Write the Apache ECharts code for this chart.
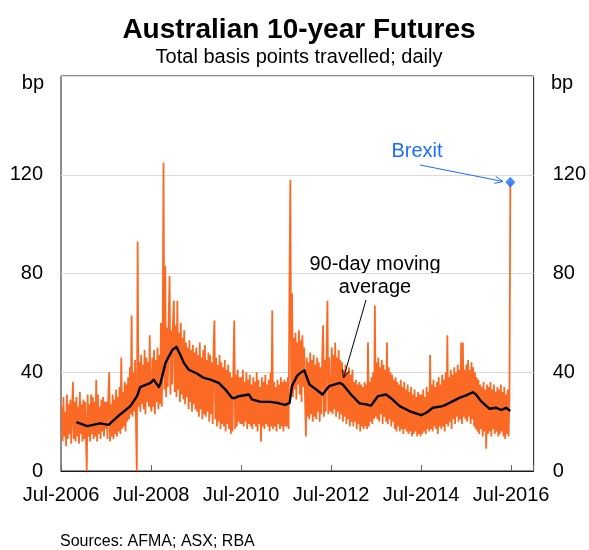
<!DOCTYPE html>
<html><head><meta charset="utf-8">
<script src="https://cdn.jsdelivr.net/npm/echarts@6/dist/echarts.min.js"></script>
<style>html,body{margin:0;padding:0;background:#fff}#c{width:589px;height:550px}</style>
</head><body><div id="c"></div>
<script>
// ---------- DATA ----------
const xTickLabels = ['Jul-2006','Jul-2008','Jul-2010','Jul-2012','Jul-2014','Jul-2016'];
const axisStart = '2006-07-01';
const sampleStart = '2006-07-07';   // samples every 7 days (bp travelled)
const sampleStepDays = 7;
const fy2006 = [26,12,30,14,24,10,31,13,27,15,29,11,25, 36,13,28,12,30,14,26,11,32,15,27,12,29, 13,28,16,0,31,14,27,12,31,15,30,13,28, 14,37,12,31,15,26,13,29,16,30,14,28,17];
const fy2007 = [28,13,30,40,12,27,14,31,13,29,15,33,14, 30,16,34,15,46,17,32,18,36,16,35,20,38, 21,42,23,63,22,40,24,45,21,0,93,26,44, 24,47,27,43,25,49,23,46,28,44,26,55,27];
const fy2008 = [24,46,26,49,23,45,28,50,25,47,27,60,26, 52,125,33,83,30,58,34,62,79,31,57,35,61, 69,32,59,30,69,33,56,28,60,31,54,29,57, 27,52,30,50,25,53,28,49,24,51,27,48,25];
const fy2009 = [50,24,47,22,52,25,46,21,49,23,51,22,45, 24,48,20,47,23,44,19,50,61,21,46,18,43, 20,47,17,44,19,42,18,45,16,41,19,43,17, 40,15,38,16,42,61,17,39,18,41,20,38,19];
const fy2010 = [38,19,41,18,36,20,40,17,37,19,39,18,35, 17,38,19,36,18,40,16,37,19,34,12,38,18, 36,17,39,19,35,18,37,16,40,18,65,17,36, 18,34,16,37,19,35,17,38,18,36,16,37,18];
const fy2011 = [36,18,38,17,76,118,32,72,30,54,33,56,29, 52,35,57,31,53,28,55,34,50,30,14,46,22, 44,21,48,23,45,20,47,22,43,21,46,24,44, 20,42,23,47,59,22,45,24,48,69,23,46,25];
const fy2012 = [24,50,23,47,25,52,22,46,24,49,21,45,23, 44,20,41,22,43,19,40,21,42,18,39,20,41, 18,36,20,37,17,35,19,36,16,35,18,34,17, 36,18,35,17,52,18,36,20,38,19,40,21,67];
const fy2013 = [22,44,21,46,20,42,23,45,19,43,22,41,20, 52,19,42,21,40,18,39,20,37,17,38,16,36, 18,35,16,37,17,34,15,36,17,33,16,35,15, 32,16,34,14,31,15,33,16,30,14,32,15,31];
const fy2014 = [14,31,15,33,16,30,15,34,17,32,16,47,17, 35,16,37,18,34,17,36,15,38,18,35,17,39, 18,37,16,40,19,55,18,38,20,41,17,39,21, 42,19,40,22,43,20,41,21,52,19,52,22,41];
const fy2015 = [21,43,20,45,22,41,19,44,21,42,18,40,17, 38,16,37,15,35,17,34,14,36,16,33,9,35, 15,34,16,36,14,33,17,35,15,32,16,34,14, 33,15,35,16,32,14,34,13,31,15,33,14,30];
const brexitDate = '2016-06-24';
const brexitValue = 117;

const maDates = ['2006-11-03','2007-01-30','2007-05-14','2007-07-22','2007-10-26','2008-01-15','2008-03-09','2008-04-04','2008-06-27','2008-07-22','2008-09-02','2008-09-16','2008-10-26','2008-12-20','2009-01-22','2009-02-24','2009-03-24','2009-05-03','2009-07-08','2009-09-02','2009-10-26','2010-01-01','2010-02-24','2010-04-19','2010-05-14','2010-06-12','2010-09-02','2010-09-27','2010-12-06','2011-02-24','2011-04-19','2011-06-24','2011-07-30','2011-08-18','2011-09-27','2011-10-26','2011-11-28','2011-12-09','2012-01-08','2012-03-02','2012-04-22','2012-06-16','2012-09-09','2012-10-04','2012-12-09','2013-02-17','2013-04-11','2013-05-21','2013-07-15','2013-09-20','2013-10-30','2014-01-08','2014-03-27','2014-07-01','2014-08-10','2014-10-04','2014-12-24','2015-02-17','2015-05-07','2015-07-01','2015-08-25','2015-09-20','2015-10-30','2016-01-08','2016-03-02','2016-04-11','2016-05-21','2016-06-24'];
const maValues = [19.8,18.2,19.3,18.7,23,26.3,30.3,34,35.7,37,34,35.7,43.8,49,50.3,47,43.8,41,39.5,37.7,37,35.7,33,29.6,29.6,30.3,31,29,28,28,27.6,26.8,27.6,34.4,38.4,39.8,40.8,39,35,33,31,34.4,35.7,35,31,27.4,27,26.5,30.3,31,29.5,26.3,24.3,22.6,23.5,25.6,26.3,27.6,29.6,30.6,31.9,31,28.3,25.2,25.6,24.7,25.6,24.3];

// ---------- BUILD ----------
const DAY = 86400000, YEAR = 365.25 * DAY;
const ms = s => { const p = s.split('-').map(Number); return Date.UTC(p[0], p[1]-1, p[2]); };
const base = ms(axisStart);
const toX = t => (t - base) / YEAR;

const dailyValues = [].concat(fy2006, fy2007, fy2008, fy2009, fy2010, fy2011, fy2012, fy2013, fy2014, fy2015);
const s0 = ms(sampleStart);
const orangeData = dailyValues.map((v, i) => [toX(s0 + i * sampleStepDays * DAY), v]);
orangeData.push([toX(ms(brexitDate)), brexitValue]);
const maData = maDates.map((d, i) => [toX(ms(d)), maValues[i]]);

const FONT = 'Liberation Sans, Arial, sans-serif';
const ORANGE = '#fb6a24', BLUE = '#1a6dff';

function arrow(x1, y1, x2, y2, color, lw) {
  const dx = x2 - x1, dy = y2 - y1, L = Math.hypot(dx, dy);
  const ux = dx / L, uy = dy / L, px = -uy, py = ux, h = 8, w = 3.5;
  return [
    { type: 'line', shape: { x1, y1, x2, y2 }, style: { stroke: color, lineWidth: lw }, z: 10 },
    { type: 'polyline', shape: { points: [[x2 - h*ux + w*px, y2 - h*uy + w*py], [x2, y2], [x2 - h*ux - w*px, y2 - h*uy - w*py]] }, style: { stroke: color, lineWidth: lw, fill: null }, z: 10 }
  ];
}

const chart = echarts.init(document.getElementById('c'), null, { renderer: 'canvas' });
chart.setOption({
  animation: false,
  backgroundColor: '#fff',
  textStyle: { fontFamily: FONT },
  grid: { left: 61, right: 55, top: 76, bottom: 79, show: true, borderColor: '#1a1a1a', borderWidth: 1, containLabel: false },
  xAxis: {
    type: 'value', min: 0, max: 10.5, interval: 2,
    axisLine: { show: true, lineStyle: { color: '#1a1a1a', width: 1 } },
    axisTick: { show: true, inside: true, length: 6, lineStyle: { color: '#666' } },
    splitLine: { show: false },
    axisLabel: {
      fontSize: 20, color: '#000', margin: 14, fontFamily: FONT,
      formatter: v => { const k = Math.round(v); return (Math.abs(v - k) < 1e-6 && k % 2 === 0 && k <= 10) ? xTickLabels[k / 2] : ''; }
    }
  },
  yAxis: [
    { type: 'value', position: 'left', min: 0, max: 160, interval: 40,
      axisLine: { show: false }, axisTick: { show: false },
      splitLine: { show: true, lineStyle: { color: '#d9d9d9', width: 1 } },
      axisLabel: { fontSize: 20, color: '#000', margin: 18, fontFamily: FONT, formatter: v => v >= 160 ? '' : String(v) } },
    { type: 'value', position: 'right', min: 0, max: 160, interval: 40,
      axisLine: { show: false }, axisTick: { show: false }, splitLine: { show: false },
      axisLabel: { fontSize: 20, color: '#000', margin: 19, fontFamily: FONT, formatter: v => v >= 160 ? '' : String(v) } }
  ],
  series: [
    { type: 'line', data: orangeData, showSymbol: false, symbol: 'none', sampling: null,
      lineStyle: { color: ORANGE, width: 1.8 }, itemStyle: { color: ORANGE }, z: 2 },
    { type: 'line', data: maData, showSymbol: false, symbol: 'none',
      lineStyle: { color: '#000', width: 2.4, join: 'round' }, z: 3 },
    { type: 'scatter', data: [[toX(ms(brexitDate)), brexitValue]], symbol: 'diamond', symbolSize: [10, 11],
      itemStyle: { color: BLUE }, z: 4 }
  ],
  graphic: [
    { type: 'text', x: 299, y: 30, style: { text: 'Australian 10-year Futures', font: 'bold 28px ' + FONT, fill: '#000', textAlign: 'center', textVerticalAlign: 'middle' } },
    { type: 'text', x: 299, y: 57, style: { text: 'Total basis points travelled; daily', font: '20px ' + FONT, fill: '#000', textAlign: 'center', textVerticalAlign: 'middle' } },
    { type: 'text', x: 44, y: 83, style: { text: 'bp', font: '20px ' + FONT, fill: '#000', textAlign: 'right', textVerticalAlign: 'middle' } },
    { type: 'text', x: 551, y: 83, style: { text: 'bp', font: '20px ' + FONT, fill: '#000', textAlign: 'left', textVerticalAlign: 'middle' } },
    { type: 'text', x: 417, y: 151, style: { text: 'Brexit', font: '20px ' + FONT, fill: BLUE, textAlign: 'center', textVerticalAlign: 'middle' } },
    ...arrow(420, 165, 503, 181.5, BLUE, 1),
    { type: 'text', x: 375, y: 264, style: { text: '90-day moving', font: '20px ' + FONT, fill: '#000', textAlign: 'center', textVerticalAlign: 'middle' } },
    { type: 'text', x: 375, y: 287, style: { text: 'average', font: '20px ' + FONT, fill: '#000', textAlign: 'center', textVerticalAlign: 'middle' } },
    ...arrow(366, 300, 343.5, 378, '#000', 1),
    { type: 'text', x: 60, y: 542, style: { text: 'Sources: AFMA; ASX; RBA', font: '16px ' + FONT, fill: '#000', textAlign: 'left', textVerticalAlign: 'middle' } }
  ]
});
</script></body></html>
